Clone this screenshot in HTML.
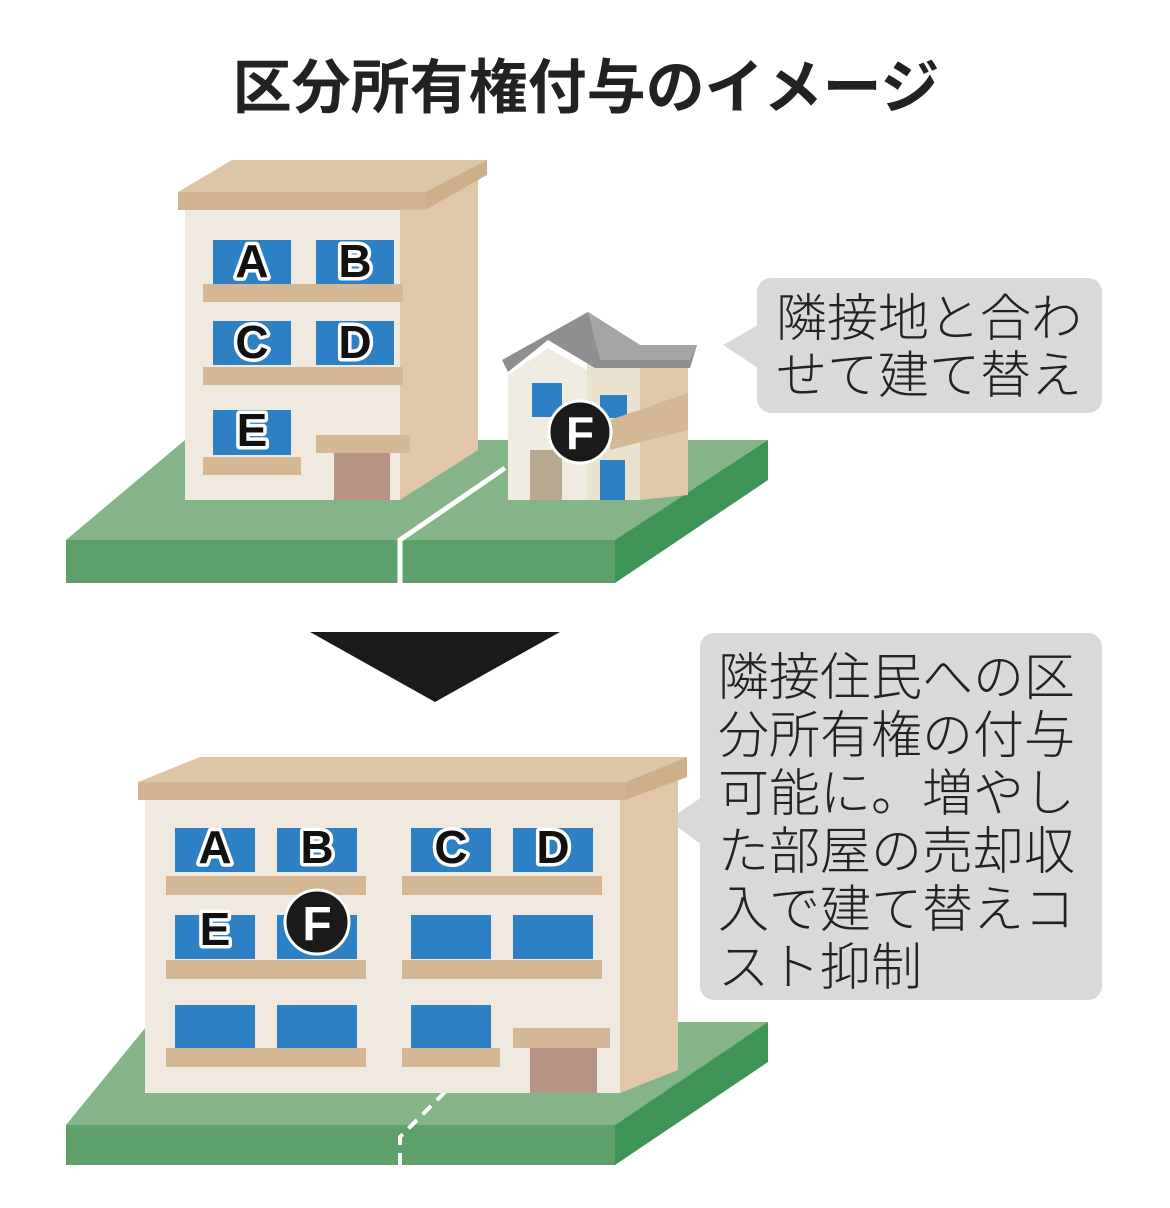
<!DOCTYPE html>
<html><head><meta charset="utf-8"><style>
html,body{margin:0;padding:0;background:#fff}
svg{display:block}
.t{font-family:"Liberation Sans","Noto Sans CJK JP",sans-serif}
.l{font-family:"Liberation Sans",sans-serif;font-weight:bold;font-size:46px;fill:#111;stroke:#fff;stroke-width:7px;paint-order:stroke;stroke-linejoin:round}
.c{font-family:"Liberation Sans","Noto Sans CJK JP",sans-serif;font-size:51px;fill:#222;font-weight:300}
</style></head><body>
<svg width="1170" height="1208" viewBox="0 0 1170 1208" xmlns="http://www.w3.org/2000/svg">
<text class="t" x="586" y="108" text-anchor="middle" font-size="59" font-weight="bold" fill="#222">区分所有権付与のイメージ</text>

<!-- TOP GROUND -->
<polygon points="66,540 185,440 768,440 615,540" fill="#84b487"/>
<rect x="66" y="540" width="549" height="43" fill="#5ea06a"/>
<polygon points="615,540 768,440 768,480 615,583" fill="#3d9455"/>
<polyline points="400,583 400,540 505,468" fill="none" stroke="#fff" stroke-width="5"/>

<!-- TOP BUILDING -->
<polygon points="400,205 478,165 478,450 400,500" fill="#dfc7a7"/>
<rect x="185" y="205" width="215" height="295" fill="#efe9df"/>
<polygon points="178,192 232,160 487,160 425,192" fill="#dcc6a6"/>
<polygon points="425,192 487,160 487,175 425,210" fill="#cdb08a"/>
<rect x="178" y="192" width="247" height="18" fill="#d2b692"/>
<g fill="#2e80c4">
<rect x="213" y="240" width="78" height="44"/><rect x="316" y="240" width="78" height="44"/>
<rect x="213" y="321" width="78" height="44"/><rect x="316" y="321" width="78" height="44"/>
<rect x="213" y="410" width="78" height="45"/>
</g>
<g fill="#d4b896">
<rect x="203" y="284" width="200" height="18"/><rect x="203" y="367" width="200" height="18"/>
<rect x="203" y="457" width="98" height="18"/><rect x="316" y="435" width="94" height="18"/>
</g>
<rect x="334" y="453" width="56" height="47" fill="#b89484"/>
<text class="l" x="252" y="277" text-anchor="middle">A</text>
<text class="l" x="355" y="277" text-anchor="middle">B</text>
<text class="l" x="252" y="358" text-anchor="middle">C</text>
<text class="l" x="355" y="358" text-anchor="middle">D</text>
<text class="l" x="252" y="446" text-anchor="middle">E</text>

<!-- HOUSE -->
<polygon points="640,360 688,345 688,495 640,500" fill="#dfc7a7"/>
<rect x="587" y="360" width="53" height="140" fill="#e9e2cf"/>
<polygon points="508,375 548,348 587,370 587,500 508,500" fill="#f0ebe1"/>
<polygon points="502,360 588,312 640,345 697,345 690,368 595,368 548,340 508,372" fill="#8f8f8f"/>
<polygon points="588,312 640,345 697,345 690,360 600,360" fill="#a5a5a5"/>
<rect x="532" y="383" width="30" height="34" fill="#2e80c4"/>
<rect x="600" y="395" width="27" height="23" fill="#2e80c4"/>
<rect x="600" y="460" width="25" height="40" fill="#2e80c4"/>
<rect x="530" y="450" width="32" height="50" fill="#b8a88e"/>
<polygon points="610,420 688,393 688,430 610,450" fill="#d4b896"/>
<circle cx="580" cy="432" r="31" fill="#1a1a1a" stroke="#fff" stroke-width="3"/>
<text x="580" y="449" text-anchor="middle" font-family="Liberation Sans,sans-serif" font-weight="bold" font-size="46" fill="#fff">F</text>

<!-- CALLOUT 1 -->
<rect x="757" y="278" width="345" height="135" rx="14" fill="#d9d9d9"/>
<polygon points="723,345 758,325 758,368" fill="#d9d9d9"/>
<text class="c" x="776" y="336">隣接地と合わ</text>
<text class="c" x="776" y="393">せて建て替え</text>

<!-- ARROW -->
<polygon points="310,632 560,632 435,702" fill="#1a1a1a"/>

<!-- CALLOUT 2 -->
<rect x="700" y="633" width="402" height="367" rx="14" fill="#d9d9d9"/>
<polygon points="668,820 702,797 702,845" fill="#d9d9d9"/>
<text class="c" x="718" y="695">隣接住民への区</text>
<text class="c" x="718" y="753">分所有権の付与</text>
<text class="c" x="718" y="811">可能に。増やし</text>
<text class="c" x="718" y="869">た部屋の売却収</text>
<text class="c" x="718" y="927">入で建て替えコ</text>
<text class="c" x="718" y="985">スト抑制</text>

<!-- BOTTOM GROUND -->
<polygon points="66,1125 150,1022 768,1022 615,1125" fill="#84b487"/>
<rect x="66" y="1125" width="549" height="40" fill="#5ea06a"/>
<polygon points="615,1125 768,1022 768,1062 615,1165" fill="#3d9455"/>
<polyline points="400,1165 400,1137 445,1092" fill="none" stroke="#fff" stroke-width="4" stroke-dasharray="12,8"/>

<!-- BOTTOM BUILDING -->
<polygon points="620,800 678,778 678,1070 620,1093" fill="#dfc7a7"/>
<rect x="145" y="800" width="475" height="293" fill="#efe9df"/>
<polygon points="138,782 200,757 687,757 625,782" fill="#dcc6a6"/>
<polygon points="625,782 687,757 687,777 625,800" fill="#cdb08a"/>
<rect x="138" y="782" width="487" height="18" fill="#d2b692"/>
<g fill="#2e80c4">
<rect x="175" y="828" width="80" height="44"/><rect x="277" y="828" width="80" height="44"/>
<rect x="411" y="828" width="80" height="44"/><rect x="513" y="828" width="80" height="44"/>
<rect x="175" y="915" width="80" height="44"/><rect x="277" y="915" width="80" height="44"/>
<rect x="411" y="915" width="80" height="44"/><rect x="513" y="915" width="80" height="44"/>
<rect x="175" y="1005" width="80" height="43"/><rect x="277" y="1005" width="80" height="43"/>
<rect x="411" y="1005" width="80" height="43"/>
</g>
<g fill="#d4b896">
<rect x="166" y="876" width="200" height="19"/><rect x="402" y="876" width="200" height="19"/>
<rect x="166" y="960" width="200" height="19"/><rect x="402" y="960" width="200" height="19"/>
<rect x="166" y="1048" width="200" height="19"/><rect x="402" y="1048" width="98" height="19"/>
<rect x="513" y="1028" width="97" height="20"/>
</g>
<rect x="530" y="1048" width="67" height="45" fill="#b89484"/>
<text class="l" x="215" y="863" text-anchor="middle">A</text>
<text class="l" x="317" y="863" text-anchor="middle">B</text>
<text class="l" x="451" y="863" text-anchor="middle">C</text>
<text class="l" x="553" y="863" text-anchor="middle">D</text>
<text class="l" x="215" y="945" text-anchor="middle">E</text>
<circle cx="317" cy="922" r="32" fill="#1a1a1a" stroke="#fff" stroke-width="3"/>
<text x="317" y="940" text-anchor="middle" font-family="Liberation Sans,sans-serif" font-weight="bold" font-size="48" fill="#fff">F</text>
</svg>
</body></html>
